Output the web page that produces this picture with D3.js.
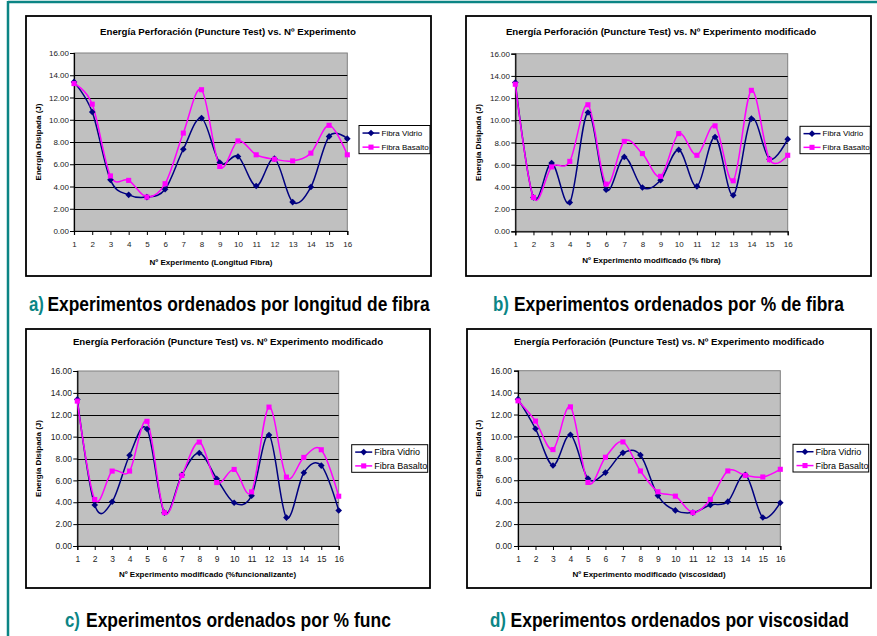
<!DOCTYPE html>
<html>
<head>
<meta charset="utf-8">
<script src="https://cdn.jsdelivr.net/npm/d3@7"></script>
<style>
  html, body { margin: 0; padding: 0; background: #fff; }
  svg { display: block; }
</style>
</head>
<body>
<svg id="chart" width="877" height="636"></svg>
<script>
// ---------------- DATA ----------------
const experimentos = [1, 2, 3, 4, 5, 6, 7, 8, 9, 10, 11, 12, 13, 14, 15, 16];
const yTickValues = [0, 2, 4, 6, 8, 10, 12, 14, 16];
const seriesNames = ["Fibra Vidrio", "Fibra Basalto"];

// a) ordenados por longitud de fibra
const vidrioLongitud  = [13.4, 10.7, 4.6, 3.25, 3.05, 3.75, 7.35, 10.15, 6.15, 6.7, 4.05, 6.5, 2.6, 3.95, 8.5, 8.3];
const basaltoLongitud = [13.25, 11.4, 4.95, 4.55, 3.05, 4.25, 8.8, 12.7, 5.8, 8.1, 6.85, 6.45, 6.3, 7.0, 9.5, 6.85];
// b) ordenados por % de fibra
const vidrioFibra  = [13.4, 3.05, 6.15, 2.6, 10.7, 3.75, 6.7, 3.95, 4.6, 7.35, 4.05, 8.5, 3.25, 10.15, 6.5, 8.3];
const basaltoFibra = [13.25, 3.05, 5.8, 6.3, 11.4, 4.25, 8.1, 7.0, 4.95, 8.8, 6.85, 9.5, 4.55, 12.7, 6.45, 6.85];
// c) ordenados por % funcionalizante
const vidrioFunc  = [13.4, 3.75, 4.05, 8.3, 10.7, 3.05, 6.5, 8.5, 6.15, 3.95, 4.6, 10.15, 2.6, 6.7, 7.35, 3.25];
const basaltoFunc = [13.25, 4.25, 6.85, 6.85, 11.4, 3.05, 6.45, 9.5, 5.8, 7.0, 4.95, 12.7, 6.3, 8.1, 8.8, 4.55];
// d) ordenados por viscosidad
const vidrioVisc  = [13.4, 10.7, 7.35, 10.15, 6.15, 6.7, 8.5, 8.3, 4.6, 3.25, 3.05, 3.75, 4.05, 6.5, 2.6, 3.95];
const basaltoVisc = [13.25, 11.4, 8.8, 12.7, 5.8, 8.1, 9.5, 6.85, 4.95, 4.55, 3.05, 4.25, 6.85, 6.45, 6.3, 7.0];

const chartTitles = [
  "Energía Perforación (Puncture Test) vs. Nº Experimento",
  "Energía Perforación (Puncture Test) vs. Nº Experimento modificado",
  "Energía Perforación (Puncture Test) vs. Nº Experimento modificado",
  "Energía Perforación (Puncture Test) vs. Nº Experimento modificado"
];
const xTitles = [
  "Nº Experimento (Longitud Fibra)",
  "Nº Experimento modificado (% fibra)",
  "Nº Experimento modificado (%funcionalizante)",
  "Nº Experimento modificado (viscosidad)"
];
const yTitle = "Energía Disipada (J)";
const captionLetters = ["a)", "b)", "c)", "d)"];
const captionTexts = [
  "Experimentos ordenados por longitud de fibra",
  "Experimentos ordenados por % de fibra",
  "Experimentos ordenados por % func",
  "Experimentos ordenados por viscosidad"
];

// ---------------- STYLE / LAYOUT ----------------
const TEAL = "#0b8585";
const VIDRIO = "#000080";
const BASALTO = "#ff00ff";
const FONT = "'Liberation Sans', Arial, sans-serif";
const NARROW = "'Liberation Sans Narrow', 'Arial Narrow', 'Liberation Sans', Arial, sans-serif";

const panels = [
  { box: [26, 16, 431, 276], plot: [74, 53, 347.3, 231], titleX: 228, titleY: 35,
    xTitleX: 211, xTitleY: 265, xTickY: 247, yTitleX: 41, yLabX: 68,
    legend: [359, 125.5, 430, 153.7], legFs: 8, tickFs: 8,
    capX: 29, capEnd: 44, bodyX: 47.5, bodyEnd: 430, capY: 311, v: vidrioLongitud, b: basaltoLongitud },
  { box: [466, 16, 871, 276], plot: [515.3, 53.7, 787.7, 231.3], titleX: 661, titleY: 35,
    xTitleX: 651.5, xTitleY: 263, xTickY: 247, yTitleX: 481, yLabX: 509,
    legend: [800, 126.3, 870.3, 153.7], legFs: 8, tickFs: 8,
    capX: 493, capEnd: 509, bodyX: 514, bodyEnd: 844, capY: 311, v: vidrioFibra, b: basaltoFibra },
  { box: [26, 329, 430, 588], plot: [77.3, 371, 338.7, 546], titleX: 228, titleY: 345,
    xTitleX: 207.5, xTitleY: 577, xTickY: 562, yTitleX: 41, yLabX: 71,
    legend: [351.7, 444.7, 427.7, 472.3], legFs: 9, tickFs: 8.5,
    capX: 65, capEnd: 80, bodyX: 86, bodyEnd: 391, capY: 627, v: vidrioFunc, b: basaltoFunc },
  { box: [467, 329, 871, 588], plot: [518, 370.7, 780.3, 546], titleX: 669, titleY: 345,
    xTitleX: 649, xTitleY: 577, xTickY: 562, yTitleX: 481, yLabX: 511,
    legend: [793, 444.3, 868.7, 472], legFs: 9, tickFs: 8.5,
    capX: 490, capEnd: 506, bodyX: 510.5, bodyEnd: 849, capY: 627, v: vidrioVisc, b: basaltoVisc }
];

const svg = d3.select("#chart");

// teal frame lines
svg.append("line").attr("x1", 8).attr("y1", 2).attr("x2", 877).attr("y2", 2)
  .attr("stroke", TEAL).attr("stroke-width", 2.5);
svg.append("line").attr("x1", 8).attr("y1", 1).attr("x2", 8).attr("y2", 636)
  .attr("stroke", TEAL).attr("stroke-width", 2.5);

const diamond = d3.symbol().type(d3.symbolDiamond2).size(28);
const square = d3.symbol().type(d3.symbolSquare).size(26);

// fits a text horizontally between x0 and x1 by scaling it (narrow look)
function fittedText(x0, x1, yBase, str, color) {
  const t = svg.append("text").attr("x", 0).attr("y", 0)
    .attr("font-family", NARROW).attr("font-weight", "bold").attr("font-size", 21)
    .attr("fill", color).text(str);
  const w = t.node().getComputedTextLength() || 1;
  const sx = (x1 - x0) / w;
  t.attr("transform", `translate(${x0},${yBase}) scale(${sx},1)`);
  return t;
}

panels.forEach((p, i) => {
  const g = svg.append("g");
  const [bx0, by0, bx1, by1] = p.box;
  const [px0, py0, px1, py1] = p.plot;

  // outer chart box
  g.append("rect").attr("x", bx0).attr("y", by0)
    .attr("width", bx1 - bx0).attr("height", by1 - by0)
    .attr("fill", "#fff").attr("stroke", "#000").attr("stroke-width", 1.8);

  // title
  g.append("text").attr("x", p.titleX).attr("y", p.titleY)
    .attr("text-anchor", "middle").attr("font-family", FONT)
    .attr("font-weight", "bold").attr("font-size", 9.7).attr("fill", "#000")
    .text(chartTitles[i]);

  const x = d3.scaleLinear().domain([1, 16]).range([px0, px1]);
  const y = d3.scaleLinear().domain([0, 16]).range([py1, py0]);

  // plot area
  g.append("rect").attr("x", px0).attr("y", py0)
    .attr("width", px1 - px0).attr("height", py1 - py0)
    .attr("fill", "#c0c0c0").attr("stroke", "#808080").attr("stroke-width", 1);

  // gridlines
  g.append("g").selectAll("line")
    .data(yTickValues.filter(d => d > 0 && d < 16))
    .join("line")
    .attr("x1", px0).attr("x2", px1)
    .attr("y1", d => Math.round(y(d)) + 0.5).attr("y2", d => Math.round(y(d)) + 0.5)
    .attr("stroke", "#000").attr("stroke-width", 1);

  // y axis
  const yAxis = d3.axisLeft(y).tickValues(yTickValues).tickFormat(d3.format(".2f"))
    .tickSize(4).tickPadding(p.plot[0] - 4 - p.yLabX - 1);
  const ya = g.append("g").attr("transform", `translate(${px0},0)`).call(yAxis);
  ya.select(".domain").attr("stroke", "#000").attr("stroke-width", 1.2);
  ya.selectAll(".tick line").attr("stroke", "#000");
  ya.selectAll(".tick text").attr("font-family", FONT).attr("font-size", p.tickFs).attr("fill", "#222");

  // x axis
  const xAxis = d3.axisBottom(x).tickValues(experimentos).tickFormat(d3.format("d"))
    .tickSize(4).tickPadding(p.xTickY - py1 - 4 - p.tickFs * 0.72);
  const xa = g.append("g").attr("transform", `translate(0,${py1})`).call(xAxis);
  xa.select(".domain").attr("stroke", "#000").attr("stroke-width", 1.2);
  xa.selectAll(".tick line").attr("stroke", "#000");
  xa.selectAll(".tick text").attr("font-family", FONT).attr("font-size", p.tickFs).attr("fill", "#222")
    .attr("dy", "0.71em");

  // axis titles
  g.append("text").attr("x", p.xTitleX).attr("y", p.xTitleY)
    .attr("text-anchor", "middle").attr("font-family", FONT)
    .attr("font-weight", "bold").attr("font-size", 8).attr("fill", "#000")
    .text(xTitles[i]);
  g.append("text")
    .attr("transform", `translate(${p.yTitleX},${(py0 + py1) / 2}) rotate(-90)`)
    .attr("text-anchor", "middle").attr("font-family", FONT)
    .attr("font-weight", "bold").attr("font-size", 8).attr("fill", "#000")
    .text(yTitle);

  // lines
  const line = d3.line().x((d, j) => x(experimentos[j])).y(d => y(d))
    .curve(d3.curveCardinal.tension(0));
  const series = [
    { vals: p.v, color: VIDRIO, sym: diamond },
    { vals: p.b, color: BASALTO, sym: square }
  ];
  series.forEach(s => {
    g.append("path").datum(s.vals).attr("d", line)
      .attr("fill", "none").attr("stroke", s.color).attr("stroke-width", 1.5);
  });
  series.forEach(s => {
    g.append("g").selectAll("path").data(s.vals).join("path")
      .attr("transform", (d, j) => `translate(${x(experimentos[j])},${y(d)})`)
      .attr("d", s.sym).attr("fill", s.color);
  });

  // legend
  const [lx0, ly0, lx1, ly1] = p.legend;
  const lg = g.append("g");
  lg.append("rect").attr("x", lx0).attr("y", ly0).attr("width", lx1 - lx0).attr("height", ly1 - ly0)
    .attr("fill", "#fff").attr("stroke", "#000").attr("stroke-width", 1);
  const rowH = (ly1 - ly0) / 2;
  series.forEach((s, k) => {
    const cy = ly0 + rowH * (k + 0.5) + 0.5;
    const sx0 = lx0 + 3.5, sx1 = lx0 + 20.5;
    lg.append("line").attr("x1", sx0).attr("x2", sx1).attr("y1", cy).attr("y2", cy)
      .attr("stroke", s.color).attr("stroke-width", 1.5);
    lg.append("path").attr("transform", `translate(${(sx0 + sx1) / 2},${cy})`)
      .attr("d", s.sym).attr("fill", s.color);
    lg.append("text").attr("x", lx0 + 22.5).attr("y", cy).attr("dy", "0.35em")
      .attr("font-family", FONT).attr("font-size", p.legFs).attr("fill", "#000")
      .text(seriesNames[k]);
  });

  // caption
  fittedText(p.capX, p.capEnd, p.capY, captionLetters[i], TEAL);
  fittedText(p.bodyX, p.bodyEnd, p.capY, captionTexts[i], "#000");
});
</script>
</body>
</html>
